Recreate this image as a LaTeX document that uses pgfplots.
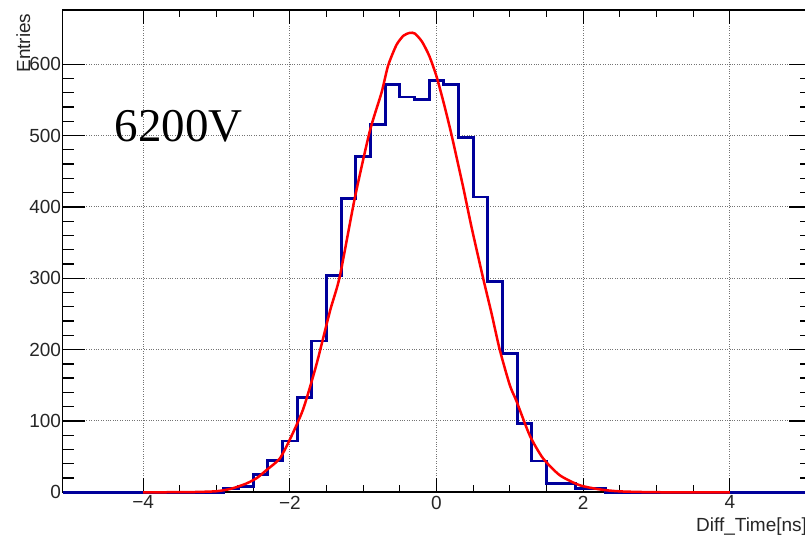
\documentclass[border=0pt]{standalone}
\usepackage{fontspec}
\setmainfont{Liberation Sans}
\newfontfamily\rootserif{Liberation Serif}
\usepackage{pgfplots}
\pgfplotsset{compat=1.18}
\definecolor{histblue}{RGB}{0,0,155}
\begin{document}
\begin{tikzpicture}
\begin{axis}[
  at={(62.5bp,46.7bp)}, anchor=south west,
  scale only axis,
  width=748bp, height=482.3bp,
  xmin=-5.1, xmax=5.1, ymin=0, ymax=676,
  xtick={-4,-2,0,2,4},
  xticklabels={−4,−2,0,2,4},
  ytick={0,100,200,300,400,500,600},
  minor x tick num=3,
  minor y tick num=4,
  tick align=inside,
  x tick style={/pgfplots/major tick length=14bp,/pgfplots/minor tick length=7bp},
  y tick style={/pgfplots/major tick length=22bp,/pgfplots/minor tick length=11bp},
  tick style={black, line width=1.3bp},
  axis line style={black, line width=1.6bp},
  grid=major,
  major grid style={dotted, black!55, line width=1bp},
  /pgf/number format/assume math mode=true,
  tick label style={font=\fontsize{19bp}{19bp}\selectfont, text=black!85},
  yticklabel style={xshift=2bp},
  clip=false,
]
\addplot[histblue, line width=2.8bp, const plot] coordinates {
(-5.1,0) (-2.9,5) (-2.7,8) (-2.5,25) (-2.3,45) (-2.1,72) (-1.9,133) (-1.7,212)
(-1.5,304) (-1.3,412) (-1.1,471) (-0.9,516) (-0.7,572) (-0.5,554) (-0.3,551)
(-0.1,577) (0.1,572) (0.3,497) (0.5,414) (0.7,295) (0.9,195) (1.1,96) (1.3,44)
(1.5,12) (1.7,12) (1.9,5) (2.1,5) (2.3,0) (5.1,0)
};
\addplot[red, line width=2.5bp, smooth, tension=0.4] coordinates {
(-4,0) (-3.6,0.1) (-3.3,0.4) (-3.0,1.5) (-2.8,5) (-2.6,12) (-2.45,20) (-2.32,31)
(-2.14,47) (-2.0,74) (-1.82,116) (-1.64,178) (-1.45,255) (-1.32,302) (-1.115,412)
(-0.91,506) (-0.75,560) (-0.66,598) (-0.546,627) (-0.45,640) (-0.364,644)
(-0.296,643) (-0.2,632) (-0.1,612) (0,583) (0.1,545) (0.205,501) (0.363,428)
(0.477,372) (0.636,300) (0.75,251) (0.862,200) (1.0,150) (1.09,128) (1.27,80)
(1.45,48) (1.68,24) (1.95,10) (2.23,4) (2.5,1.3) (3.0,0.1) (4.0,0)
};
\node[anchor=base west, font=\rootserif\fontsize{47bp}{47bp}\selectfont] at (axis cs:-4.434,491.5) {6200V};
\node[rotate=90, anchor=base east, font=\fontsize{19bp}{19bp}\selectfont, text=black!85] at ([xshift=-32.5bp]rel axis cs:0,1) {Entries};
\node[anchor=base east, font=\fontsize{19bp}{19bp}\selectfont, text=black!85] at ([yshift=-39.4bp]rel axis cs:1,0) {Diff\_Time[ns]};
\end{axis}
\pgfresetboundingbox
\path[use as bounding box] (0,0) rectangle (805bp,539bp);
\end{tikzpicture}
\end{document}
